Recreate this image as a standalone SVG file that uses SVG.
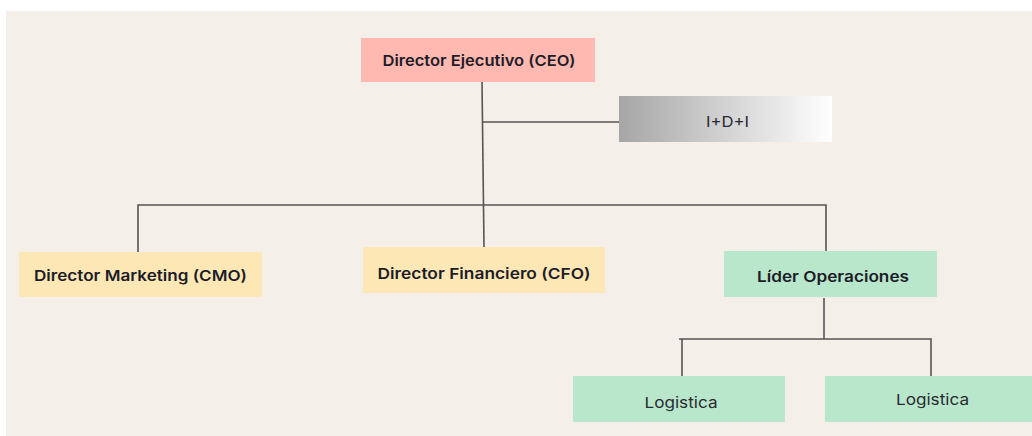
<svg xmlns="http://www.w3.org/2000/svg" width="1032" height="436" viewBox="0 0 1032 436">
  <style>
    .lbl { font-family: Inter, "Noto Sans", "Liberation Sans", sans-serif; fill: #1c1c28; text-anchor: middle; }
    .b { font-weight: 600; font-size: 15px; }
    .r { font-weight: 400; font-size: 15px; fill: #2a2a33; }
    .link { fill: none; stroke: #555; stroke-width: 1.6; }
  </style>
  <defs>
    <linearGradient id="greyFade" x1="0" y1="0" x2="1" y2="0">
      <stop offset="0" stop-color="#a6a6a6"/>
      <stop offset="1" stop-color="#ffffff"/>
    </linearGradient>
  </defs>

  <rect x="0" y="0" width="1032" height="436" fill="#ffffff"/>
  <rect x="6" y="11" width="1026" height="425" fill="#f4efe9"/>

  <g id="connectors">
    <path class="link" d="M482 82 L484 247"/>
    <path class="link" d="M482 122 H620"/>
    <path class="link" d="M138 252 V205 H826 V251"/>
    <path class="link" d="M824 298 V339"/>
    <path class="link" d="M679 339 H931 V376"/>
    <path class="link" d="M682 339 V376"/>
  </g>

  <g id="ceo">
    <rect x="361" y="38" width="234" height="44" fill="#ffb9b0"/>
    <text class="lbl b" x="479" y="66" textLength="193" lengthAdjust="spacingAndGlyphs">Director Ejecutivo (CEO)</text>
  </g>

  <g id="idi">
    <rect x="619" y="96" width="213" height="46" fill="url(#greyFade)"/>
    <text class="lbl r" x="727.5" y="127" textLength="43" lengthAdjust="spacingAndGlyphs">I+D+I</text>
  </g>

  <g id="cmo">
    <rect x="19" y="252" width="243" height="45" fill="#fde8b5"/>
    <text class="lbl b" x="140.5" y="281" textLength="213" lengthAdjust="spacingAndGlyphs">Director Marketing (CMO)</text>
  </g>

  <g id="cfo">
    <rect x="363" y="247" width="242" height="46" fill="#fde8b5"/>
    <text class="lbl b" x="484" y="279" textLength="213" lengthAdjust="spacingAndGlyphs">Director Financiero (CFO)</text>
  </g>

  <g id="operaciones">
    <rect x="724" y="251" width="213" height="46" fill="#b8e7cb"/>
    <text class="lbl b" x="833" y="282" textLength="152" lengthAdjust="spacingAndGlyphs">Líder Operaciones</text>
  </g>

  <g id="logistica-1">
    <rect x="573" y="376" width="212" height="46" fill="#b8e7cb"/>
    <text class="lbl r" x="681" y="408" textLength="73" lengthAdjust="spacingAndGlyphs">Logistica</text>
  </g>

  <g id="logistica-2">
    <rect x="825" y="376" width="207" height="46" fill="#b8e7cb"/>
    <text class="lbl r" x="932.5" y="405" textLength="73" lengthAdjust="spacingAndGlyphs">Logistica</text>
  </g>
</svg>
